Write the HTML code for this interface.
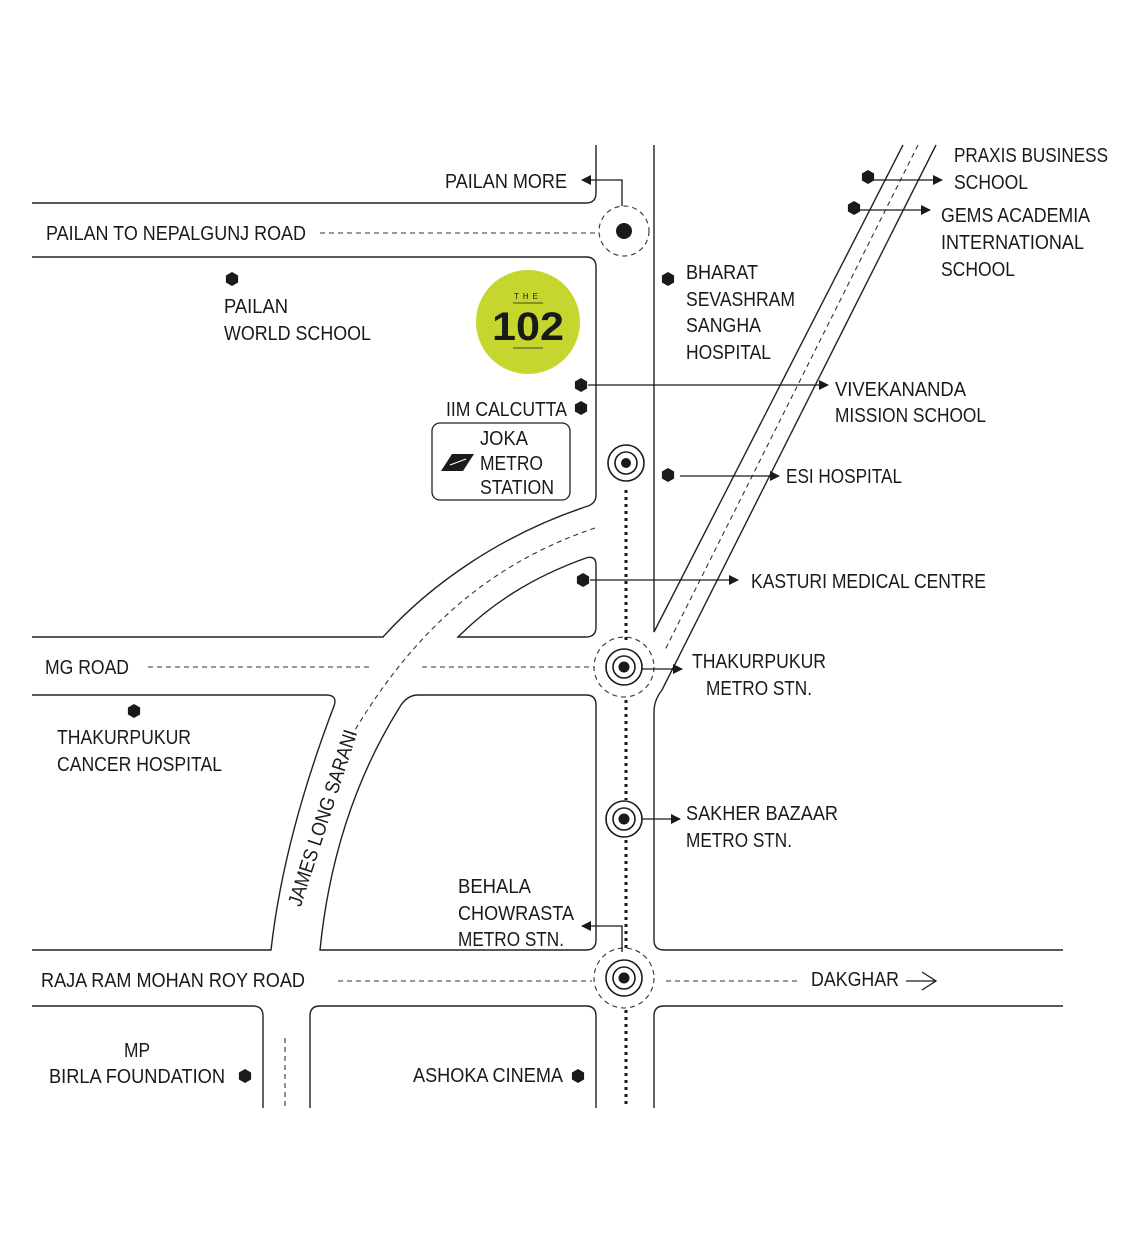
<!DOCTYPE html>
<html><head><meta charset="utf-8"><style>
html,body{margin:0;padding:0;background:#fff;}
svg{display:block;}
text{font-family:"Liberation Sans",sans-serif;font-size:20px;fill:#1a1a1a;}
</style></head><body>
<svg width="1126" height="1244" viewBox="0 0 1126 1244" xmlns="http://www.w3.org/2000/svg">
<defs>
<marker id="ar" markerWidth="10" markerHeight="10" refX="9" refY="5" orient="auto" markerUnits="userSpaceOnUse"><path d="M0,0 L10,5 L0,10 Z" fill="#1a1a1a"/></marker>
<symbol id="hx" viewBox="-7 -7 14 14"><polygon points="0,-7 6.1,-3.5 6.1,3.5 0,7 -6.1,3.5 -6.1,-3.5" fill="#1a1a1a"/></symbol>
</defs>
<g fill="none" stroke="#222" stroke-width="1.4">
<path d="M32 203 H586 Q596 203 596 193 V145"/>
<path d="M32 257 H586 Q596 257 596 267 V495 Q596 503 588 506 C500 535 430 585 383 637 H32"/>
<path d="M654 145 V632 L903 145"/>
<path d="M936 145 L662 690 Q654 700 654 712 V940 Q654 950 664 950 H1063"/>
<path d="M1063 1006 H664 Q654 1006 654 1016 V1108"/>
<path d="M596 565 Q596 555 586 558 C530 578 490 605 458 637 H586 Q596 637 596 627 Z"/>
<path d="M32 695 H326 Q338 695 334 706 C302 790 280 870 271 950 H32"/>
<path d="M596 705 Q596 695 586 695 H418 Q408 695 401 705 C360 770 330 850 320 950 H586 Q596 950 596 940 Z"/>
<path d="M32 1006 H253 Q263 1006 263 1016 V1108"/>
<path d="M310 1108 V1016 Q310 1006 320 1006 H586 Q596 1006 596 1016 V1108"/>
</g>
<g fill="none" stroke="#333" stroke-width="1.1" stroke-dasharray="5 4">
<path d="M320 233 H598"/>
<path d="M918 145 L664 652"/>
<path d="M595 528 C500 560 420 620 352 735"/>
<path d="M148 667 H373"/><path d="M422 667 H594"/>
<path d="M338 981 H592"/><path d="M666 981 H800"/>
<path d="M285 1038 V1108"/>
<circle cx="624" cy="231" r="25"/>
<circle cx="624" cy="667" r="30"/>
<circle cx="624" cy="978" r="30"/>
</g>
<g stroke="#1a1a1a" stroke-width="3" stroke-dasharray="3 4" fill="none">
<path d="M626 490 V640"/><path d="M626 700 V800"/><path d="M626 840 V948"/><path d="M626 1010 V1108"/>
</g>
<circle cx="624" cy="231" r="8" fill="#1a1a1a"/>
<g fill="none" stroke="#1a1a1a" stroke-width="1.6">
<circle cx="626" cy="463" r="18"/><circle cx="626" cy="463" r="11"/>
<circle cx="624" cy="667" r="18"/><circle cx="624" cy="667" r="11"/>
<circle cx="624" cy="819" r="18"/><circle cx="624" cy="819" r="11"/>
<circle cx="624" cy="978" r="18"/><circle cx="624" cy="978" r="11"/>
</g>
<g fill="#1a1a1a"><circle cx="626" cy="463" r="5"/><circle cx="624" cy="667" r="5.5"/><circle cx="624" cy="819" r="5.5"/><circle cx="624" cy="978" r="5.5"/></g>
<g fill="none" stroke="#1a1a1a" stroke-width="1.3" marker-end="url(#ar)">
<path d="M622 206 V180 H582"/>
<path d="M874 180 H942"/>
<path d="M860 210 H930"/>
<path d="M588 385 H828"/>
<path d="M680 476 H779"/>
<path d="M590 580 H738"/>
<path d="M642 669 H682"/>
<path d="M642 819 H680"/>
<path d="M622 952 V926 H582"/>
</g>
<path d="M906 981 H936 M922 972 L936 981 L922 990" fill="none" stroke="#1a1a1a" stroke-width="1.3"/>
<g>
<use href="#hx" x="225" y="272" width="14" height="14"/>
<use href="#hx" x="661" y="272" width="14" height="14"/>
<use href="#hx" x="574" y="378" width="14" height="14"/>
<use href="#hx" x="574" y="401" width="14" height="14"/>
<use href="#hx" x="661" y="468" width="14" height="14"/>
<use href="#hx" x="576" y="573" width="14" height="14"/>
<use href="#hx" x="127" y="704" width="14" height="14"/>
<use href="#hx" x="238" y="1069" width="14" height="14"/>
<use href="#hx" x="571" y="1069" width="14" height="14"/>
<use href="#hx" x="861" y="170" width="14" height="14"/>
<use href="#hx" x="847" y="201" width="14" height="14"/>
</g>
<circle cx="528" cy="322" r="52" fill="#c5d62e"/>
<text x="528" y="299" text-anchor="middle" style="font-size:8px;letter-spacing:4px">THE</text>
<line x1="513" y1="303" x2="543" y2="303" stroke="#1a1a1a" stroke-width="0.8"/>
<text x="492" y="340" style="font-size:40px;font-weight:bold" textLength="72" lengthAdjust="spacingAndGlyphs">102</text>
<line x1="513" y1="348" x2="543" y2="348" stroke="#1a1a1a" stroke-width="0.8"/>
<rect x="432" y="423" width="138" height="77" rx="8" fill="none" stroke="#222" stroke-width="1.3"/>
<polygon points="452,454 474,454 463,471 441,471" fill="#1a1a1a"/>
<path d="M450 465 L466 459" stroke="#fff" stroke-width="1"/>
<g style="font-size:19px">
<text x="480" y="445" textLength="48" lengthAdjust="spacingAndGlyphs">JOKA</text>
<text x="480" y="470" textLength="63" lengthAdjust="spacingAndGlyphs">METRO</text>
<text x="480" y="494" textLength="74" lengthAdjust="spacingAndGlyphs">STATION</text>
<text x="445" y="188" textLength="122" lengthAdjust="spacingAndGlyphs">PAILAN MORE</text>
<text x="46" y="240" textLength="260" lengthAdjust="spacingAndGlyphs">PAILAN TO NEPALGUNJ ROAD</text>
<text x="224" y="313" textLength="64" lengthAdjust="spacingAndGlyphs">PAILAN</text>
<text x="224" y="340" textLength="147" lengthAdjust="spacingAndGlyphs">WORLD SCHOOL</text>
<text x="686" y="279" textLength="72" lengthAdjust="spacingAndGlyphs">BHARAT</text>
<text x="686" y="306" textLength="109" lengthAdjust="spacingAndGlyphs">SEVASHRAM</text>
<text x="686" y="332" textLength="75" lengthAdjust="spacingAndGlyphs">SANGHA</text>
<text x="686" y="359" textLength="85" lengthAdjust="spacingAndGlyphs">HOSPITAL</text>
<text x="954" y="162" textLength="154" lengthAdjust="spacingAndGlyphs">PRAXIS BUSINESS</text>
<text x="954" y="189" textLength="74" lengthAdjust="spacingAndGlyphs">SCHOOL</text>
<text x="941" y="222" textLength="149" lengthAdjust="spacingAndGlyphs">GEMS ACADEMIA</text>
<text x="941" y="249" textLength="143" lengthAdjust="spacingAndGlyphs">INTERNATIONAL</text>
<text x="941" y="276" textLength="74" lengthAdjust="spacingAndGlyphs">SCHOOL</text>
<text x="835" y="396" textLength="131" lengthAdjust="spacingAndGlyphs">VIVEKANANDA</text>
<text x="835" y="422" textLength="151" lengthAdjust="spacingAndGlyphs">MISSION SCHOOL</text>
<text x="446" y="416" textLength="121" lengthAdjust="spacingAndGlyphs">IIM CALCUTTA</text>
<text x="786" y="483" textLength="116" lengthAdjust="spacingAndGlyphs">ESI HOSPITAL</text>
<text x="751" y="588" textLength="235" lengthAdjust="spacingAndGlyphs">KASTURI MEDICAL CENTRE</text>
<text x="45" y="674" textLength="84" lengthAdjust="spacingAndGlyphs">MG ROAD</text>
<text x="692" y="668" textLength="134" lengthAdjust="spacingAndGlyphs">THAKURPUKUR</text>
<text x="706" y="695" textLength="106" lengthAdjust="spacingAndGlyphs">METRO STN.</text>
<text x="57" y="744" textLength="134" lengthAdjust="spacingAndGlyphs">THAKURPUKUR</text>
<text x="57" y="771" textLength="165" lengthAdjust="spacingAndGlyphs">CANCER HOSPITAL</text>
<text x="686" y="820" textLength="152" lengthAdjust="spacingAndGlyphs">SAKHER BAZAAR</text>
<text x="686" y="847" textLength="106" lengthAdjust="spacingAndGlyphs">METRO STN.</text>
<text x="458" y="893" textLength="73" lengthAdjust="spacingAndGlyphs">BEHALA</text>
<text x="458" y="920" textLength="116" lengthAdjust="spacingAndGlyphs">CHOWRASTA</text>
<text x="458" y="946" textLength="106" lengthAdjust="spacingAndGlyphs">METRO STN.</text>
<text x="41" y="987" textLength="264" lengthAdjust="spacingAndGlyphs">RAJA RAM MOHAN ROY ROAD</text>
<text x="811" y="986" textLength="88" lengthAdjust="spacingAndGlyphs">DAKGHAR</text>
<text x="124" y="1057" textLength="26" lengthAdjust="spacingAndGlyphs">MP</text>
<text x="49" y="1083" textLength="176" lengthAdjust="spacingAndGlyphs">BIRLA FOUNDATION</text>
<text x="413" y="1082" textLength="150" lengthAdjust="spacingAndGlyphs">ASHOKA CINEMA</text>
<text x="-92" y="0" transform="translate(329,820) rotate(-72)" textLength="184" lengthAdjust="spacingAndGlyphs">JAMES LONG SARANI</text>
</g>
</svg>
</body></html>
